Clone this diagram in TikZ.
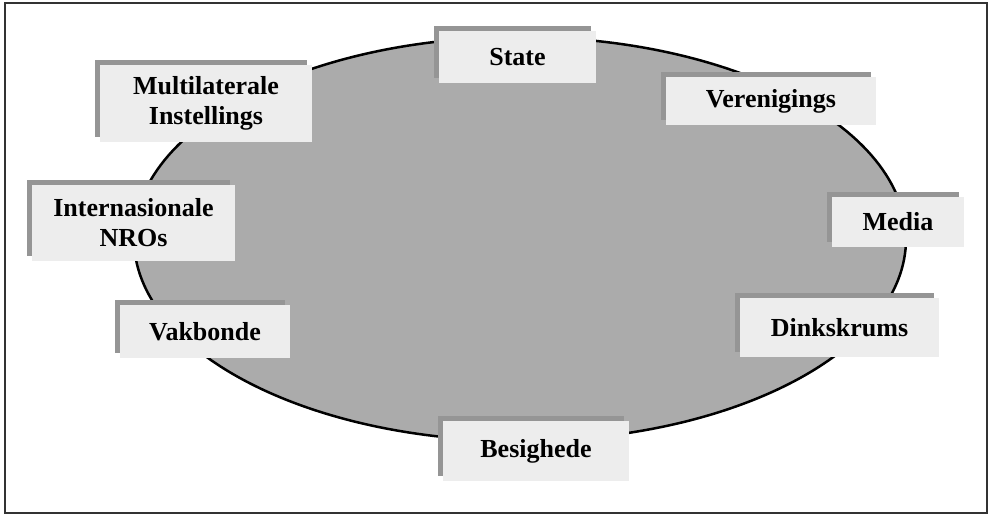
\documentclass[tikz,border=0pt]{standalone}
\usepackage{fontspec}
\setmainfont{Liberation Serif}
\RequirePackage{tikz}
\usetikzlibrary{shapes.geometric, shadows}

\definecolor{boxgray}{HTML}{EDEDED}
\definecolor{shadowgray}{HTML}{959595}
\definecolor{fieldgray}{HTML}{ABABAB}
\definecolor{framegray}{HTML}{333333}

\begin{document}
\begin{tikzpicture}[
	x=1pt, y=-1pt,
	block/.style={fill=boxgray, inner sep=0pt, align=center,
		font=\bfseries\fontsize{26}{30}\selectfont,
		general shadow={fill=shadowgray, shadow xshift=-5pt, shadow yshift=5pt}
	}]
\useasboundingbox (0,0) rectangle (989,517);
\node[draw=framegray, line width=2pt, minimum width=982pt, minimum height=510pt, inner sep=0pt] (frame) at (496,258) {};
\node[draw, line width=2.5pt, fill=fieldgray, ellipse, minimum width=772pt, minimum height=404pt, inner sep=0pt] (veld) at (520,239) {};

\node[block, minimum width=157pt, minimum height=52pt] (state) at (517.5,57) {State};
\node[block, minimum width=212pt, minimum height=77pt] (multi) at (206,103.5) {Multilaterale \\ Instellings};
\node[block, minimum width=210pt, minimum height=48pt] (veren) at (771,101) {Verenigings};
\node[block, minimum width=203pt, minimum height=76pt] (nros) at (133.5,223) {Internasionale \\ NROs};
\node[block, minimum width=132pt, minimum height=50pt] (media) at (898,222) {Media};
\node[block, minimum width=170pt, minimum height=53pt] (vakb) at (205,331.5) {Vakbonde};
\node[block, minimum width=199pt, minimum height=59pt] (dink) at (839.5,327.5) {Dinkskrums};
\node[block, minimum width=186pt, minimum height=60pt] (besig) at (536,451) {Besighede};
\end{tikzpicture}
\end{document}
